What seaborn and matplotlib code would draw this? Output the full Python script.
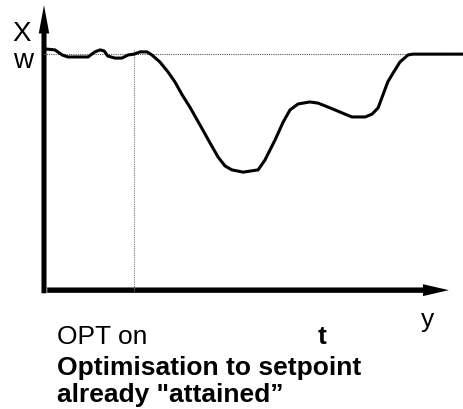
import numpy as np
import pandas as pd
import matplotlib
matplotlib.use('Agg')
import matplotlib.pyplot as plt
import seaborn as sns

# controlled variable X over time (axis units 0..100)
time = [0.5, 2.7, 4.5, 5.9, 10.9, 12.6, 13.9, 14.9, 15.8, 17.6, 19.3, 20.8, 22.3,
        23.8, 25.5, 26.7, 28.7, 30.7, 32.4, 34.2, 36.1, 38.6, 41.1, 43.1, 44.8,
        46.5, 49.3, 53.0, 54.7, 57.2, 59.2, 60.9, 62.9, 65.8, 67.8, 69.6, 72.0,
        74.5, 76.2, 79.5, 81.2, 82.7, 83.9, 85.1, 86.4, 88.1, 90.1, 91.3, 104.0]
value = [85.5, 85.2, 83.4, 82.7, 82.7, 84.5, 85.2, 84.8, 83.0, 82.3, 82.3, 83.4, 83.7,
         84.5, 84.5, 83.4, 80.9, 77.4, 73.9, 69.3, 65.0, 58.7, 52.3, 47.3, 44.2,
         42.8, 42.0, 42.8, 46.3, 53.4, 59.7, 64.0, 66.1, 66.8, 66.4, 65.4, 64.0,
         62.5, 61.5, 61.5, 62.5, 64.7, 69.3, 73.9, 77.0, 80.9, 83.4, 83.7, 83.7]
setpoint = 83.7
opt_on = 22.3

sns.set_style('white')
plt.rcParams['font.family'] = ['Liberation Sans', 'DejaVu Sans']

W, H = 464, 409
fig = plt.figure(figsize=(W / 100, H / 100), dpi=100)
ax = fig.add_axes([44 / W, 1 - 291 / H, 404 / W, 283 / H])
ax.set_xlim(0, 100)
ax.set_ylim(0, 100)
ax.axis('off')

df = pd.DataFrame({'t': time, 'x': value})

# setpoint and "OPT on" guide lines
ax.plot([0, 104], [setpoint, setpoint], color='#555555', lw=0.8, ls=(0, (1, 1)), clip_on=False)
ax.plot([opt_on, opt_on], [0, 85.2], color='#777777', lw=0.8, ls=(0, (1, 1)), clip_on=False)

sns.lineplot(data=df, x='t', y='x', ax=ax, color='black', lw=2.2, sort=False)
for l in ax.lines:
    l.set_clip_on(False)

# axes arrows (filled, sizes in data units: 4.04 px per x unit, 2.83 px per y unit)
ax.arrow(0, -0.8, 0, 101.8, width=1.25, head_width=2.6, head_length=10,
         length_includes_head=True, color='black', lw=0, clip_on=False)
ax.arrow(0.8, 0.3, 99.4, 0, width=1.9, head_width=4.2, head_length=6.4,
         length_includes_head=True, color='black', lw=0, clip_on=False)

def label(x, y, s, **kw):
    fig.text(x / W, 1 - y / H, s, va='baseline', ha='left', color='black', **kw)

label(12, 41, 'X', fontsize=20)
label(13, 68, 'w', fontsize=20)
label(421, 327, 'y', fontsize=19)
label(57, 344, 'OPT on', fontsize=19)
label(318, 344, 't', fontsize=19, fontweight='bold')
label(57, 375, 'Optimisation to setpoint', fontsize=19, fontweight='bold')
label(57, 402, 'already "attained\u201d', fontsize=19, fontweight='bold')

plt.savefig('out.png', dpi=100)
